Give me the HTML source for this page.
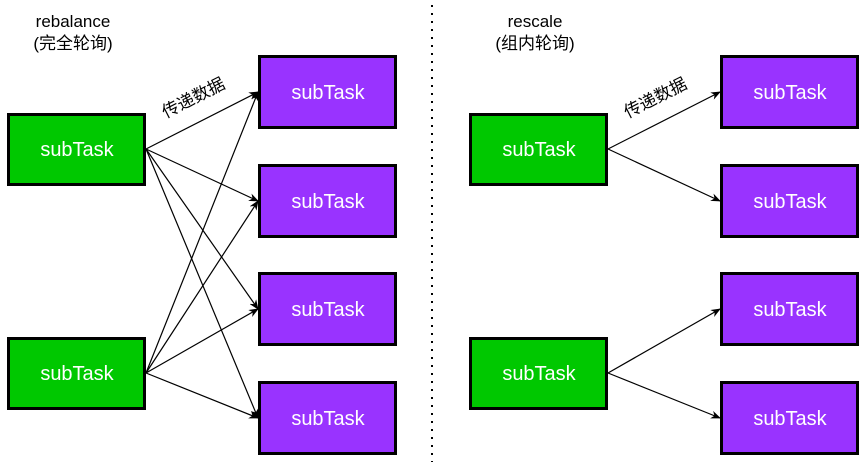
<!DOCTYPE html>
<html><head><meta charset="utf-8"><style>
html,body{margin:0;padding:0;background:#fff;width:867px;height:467px;overflow:hidden}
text{font-family:"Liberation Sans","Noto Sans CJK SC",sans-serif}
</style></head><body>
<svg width="867" height="467" viewBox="0 0 867 467" xmlns="http://www.w3.org/2000/svg">
<defs>
<marker id="a" markerWidth="10" markerHeight="8" refX="9" refY="4" orient="auto" markerUnits="userSpaceOnUse">
<path d="M0,0 L10,4 L0,8 L3,4 Z" fill="#000"/>
</marker>
</defs>
<line x1="432" y1="5" x2="432" y2="462" stroke="#000" stroke-width="2" stroke-dasharray="2,6"/>
<g font-size="17" fill="#000" text-anchor="middle">
<text x="73" y="27">rebalance</text>
<text x="73" y="49">(完全轮询)</text>
<text x="535" y="27">rescale</text>
<text x="535" y="49">(组内轮询)</text>
</g>
<g stroke="#000" stroke-width="1.2" marker-end="url(#a)">
<line x1="146" y1="149" x2="258" y2="92"/>
<line x1="146" y1="149" x2="258" y2="201"/>
<line x1="146" y1="149" x2="258" y2="309"/>
<line x1="146" y1="149" x2="258" y2="418"/>
<line x1="146" y1="373" x2="258" y2="92"/>
<line x1="146" y1="373" x2="258" y2="201"/>
<line x1="146" y1="373" x2="258" y2="309"/>
<line x1="146" y1="373" x2="258" y2="418"/>
<line x1="608" y1="149" x2="720" y2="92"/>
<line x1="608" y1="149" x2="720" y2="201"/>
<line x1="608" y1="373" x2="720" y2="309"/>
<line x1="608" y1="373" x2="720" y2="418"/>
</g>
<text x="196" y="103" font-size="17" text-anchor="middle" transform="rotate(-27 196 103)">传递数据</text>
<text x="658" y="103" font-size="17" text-anchor="middle" transform="rotate(-27 658 103)">传递数据</text>
<g stroke="#000" stroke-width="3">
<rect x="8.5" y="114.5" width="136" height="70" fill="#00c800"/>
<rect x="8.5" y="338.5" width="136" height="70" fill="#00c800"/>
<rect x="259.5" y="56.5" width="136" height="71" fill="#9933ff"/>
<rect x="259.5" y="165.5" width="136" height="71" fill="#9933ff"/>
<rect x="259.5" y="273.5" width="136" height="71" fill="#9933ff"/>
<rect x="259.5" y="382.5" width="136" height="71" fill="#9933ff"/>
<rect x="470.5" y="114.5" width="136" height="70" fill="#00c800"/>
<rect x="470.5" y="338.5" width="136" height="70" fill="#00c800"/>
<rect x="721.5" y="56.5" width="136" height="71" fill="#9933ff"/>
<rect x="721.5" y="165.5" width="136" height="71" fill="#9933ff"/>
<rect x="721.5" y="273.5" width="136" height="71" fill="#9933ff"/>
<rect x="721.5" y="382.5" width="136" height="71" fill="#9933ff"/>
</g>
<g font-size="20" fill="#fff" text-anchor="middle">
<text x="77" y="156">subTask</text>
<text x="77" y="380">subTask</text>
<text x="328" y="99">subTask</text>
<text x="328" y="208">subTask</text>
<text x="328" y="316">subTask</text>
<text x="328" y="425">subTask</text>
<text x="539" y="156">subTask</text>
<text x="539" y="380">subTask</text>
<text x="790" y="99">subTask</text>
<text x="790" y="208">subTask</text>
<text x="790" y="316">subTask</text>
<text x="790" y="425">subTask</text>
</g>
</svg>
</body></html>
